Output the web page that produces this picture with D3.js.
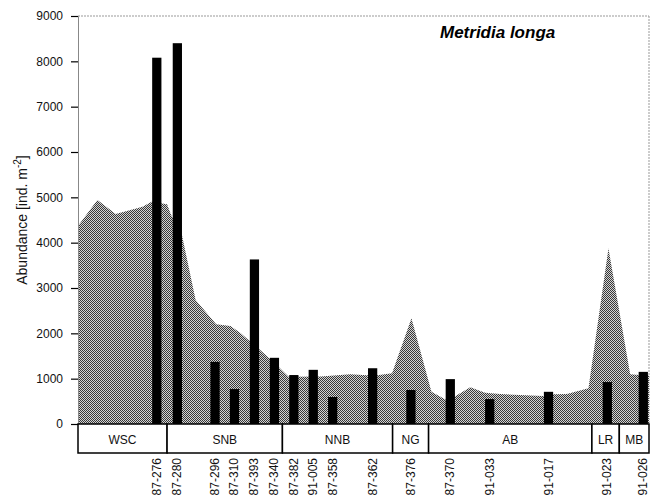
<!DOCTYPE html>
<html>
<head>
<meta charset="utf-8">
<script src="https://cdn.jsdelivr.net/npm/d3@7"></script>
<style>
  html, body { margin: 0; padding: 0; background: #fff; }
  svg { display: block; font-family: "Liberation Sans", Arial, sans-serif; }
</style>
</head>
<body>
<svg id="chart" width="671" height="495"></svg>
<script>
// Stations along the section (position in % of section length) and Metridia longa abundance (ind. m-2)
const stations = ["87-276", "87-280", "87-296", "87-310", "87-393", "87-340", "87-382", "91-005",
                  "87-358", "87-362", "87-376", "87-370", "91-033", "91-017", "91-023", "91-026"];
const stationPos = [13.8, 17.4, 24.0, 27.4, 30.9, 34.4, 37.8, 41.2,
                    44.6, 51.6, 58.3, 65.2, 72.1, 82.4, 92.7, 99.0];
const abundance = [8080, 8400, 1370, 770, 3630, 1460, 1080, 1195,
                   595, 1230, 750, 990, 550, 710, 925, 1150];

// Background abundance profile (shaded area): section position and value
const profilePos = [0, 3.4, 6.6, 11.3, 12.9, 15.6, 16.3, 18.2, 20.6, 24.2, 26.7, 28.5, 30.2, 31.9,
                    35.1, 36.9, 42.5, 47.7, 50.6, 52.4, 55.0, 58.4, 61.9, 64.5, 65.9, 68.7, 71.3,
                    74.0, 81.5, 83.2, 85.6, 89.4, 92.9, 96.7, 98.3, 100];
const profileVal = [4370, 4940, 4630, 4790, 4900, 4850, 4610, 4170, 2735, 2200, 2160, 2000, 1815, 1630,
                    1265, 1045, 1050, 1095, 1075, 1075, 1120, 2330, 710, 530, 600, 810, 690,
                    660, 620, 655, 660, 790, 3875, 1100, 1080, 1080];

// Water-mass regions along the section
const regions = ["WSC", "SNB", "NNB", "NG", "AB", "LR", "MB"];
const regionEdges = [0, 15.6, 35.8, 55.1, 61.4, 90.0, 94.8, 100];

const yTicks = [0, 1000, 2000, 3000, 4000, 5000, 6000, 7000, 8000, 9000];

const svg = d3.select("#chart");
const x = d3.scaleLinear().domain([0, 100]).range([78, 649]);
const y = d3.scaleLinear().domain([0, 9000]).range([424, 16]);
const barWidth = x(1.62) - x(0);

// Fine dithered grey fill
const defs = svg.append("defs");
const pat = defs.append("pattern")
  .attr("id", "dither").attr("patternUnits", "userSpaceOnUse")
  .attr("width", 2).attr("height", 2);
pat.append("rect").attr("width", 2).attr("height", 2).attr("fill", "#d4d4d4");
pat.append("rect").attr("x", 0).attr("y", 0).attr("width", 1).attr("height", 1).attr("fill", "#383838");
pat.append("rect").attr("x", 1).attr("y", 1).attr("width", 1).attr("height", 1).attr("fill", "#383838");

// Frame: faint top and right borders
svg.append("line").attr("x1", x(0)).attr("x2", x(100)).attr("y1", y(9000)).attr("y2", y(9000))
  .attr("stroke", "#999").attr("stroke-width", 1).attr("stroke-dasharray", "2,1");
svg.append("line").attr("x1", x(100)).attr("x2", x(100)).attr("y1", y(9000)).attr("y2", y(0))
  .attr("stroke", "#999").attr("stroke-width", 1).attr("stroke-dasharray", "2,1");

// Shaded profile
const profile = profilePos.map((p, i) => [p, profileVal[i]]);
svg.append("path")
  .datum(profile)
  .attr("fill", "url(#dither)")
  .attr("d", d3.area().x(d => x(d[0])).y0(y(0)).y1(d => y(d[1])));

// Station bars
svg.append("g").selectAll("rect")
  .data(stations)
  .join("rect")
  .attr("x", (d, i) => x(stationPos[i]) - barWidth / 2)
  .attr("width", barWidth)
  .attr("y", (d, i) => y(abundance[i]))
  .attr("height", (d, i) => y(0) - y(abundance[i]))
  .attr("fill", "#000");

// Y axis
const yAxis = svg.append("g")
  .attr("transform", `translate(${x(0)},0)`)
  .call(d3.axisLeft(y).tickValues(yTicks).tickFormat(d3.format("d")).tickSize(7).tickPadding(8));
yAxis.select(".domain").attr("stroke", "#888");
yAxis.selectAll(".tick line").attr("stroke", "#000").attr("stroke-width", 1.2);
yAxis.selectAll(".tick text").attr("font-size", 12).attr("fill", "#111")
  .attr("font-family", "'Liberation Sans', Arial, sans-serif");

// Y axis title
const yTitle = svg.append("text")
  .attr("transform", `translate(27,${(y(0) + y(9000)) / 2}) rotate(-90)`)
  .attr("text-anchor", "middle")
  .attr("font-size", 14).attr("fill", "#111");
yTitle.append("tspan").text("Abundance [ind. m");
yTitle.append("tspan").attr("dy", -6).attr("font-size", 10).text("-2");
yTitle.append("tspan").attr("dy", 6).text("]");

// Region boxes below the baseline
const regionG = svg.append("g");
regions.forEach((r, i) => {
  const x0 = x(regionEdges[i]), x1 = x(regionEdges[i + 1]);
  regionG.append("rect")
    .attr("x", x0).attr("y", y(0)).attr("width", x1 - x0).attr("height", 29)
    .attr("fill", "#fff").attr("stroke", "#000").attr("stroke-width", 1.5);
  regionG.append("text")
    .attr("x", (x0 + x1) / 2).attr("y", y(0) + 20)
    .attr("text-anchor", "middle").attr("font-size", 12).attr("fill", "#111")
    .text(r);
});

// Station labels
svg.append("g").selectAll("text")
  .data(stations)
  .join("text")
  .attr("transform", (d, i) => `translate(${x(stationPos[i])},458) rotate(-90)`)
  .attr("text-anchor", "end")
  .attr("dominant-baseline", "central")
  .attr("font-size", 12).attr("fill", "#111")
  .text(d => d);

// Species title
svg.append("text")
  .attr("x", 440).attr("y", 38)
  .attr("font-size", 17).attr("font-weight", "bold").attr("font-style", "italic")
  .attr("fill", "#000")
  .text("Metridia longa");
</script>
</body>
</html>
